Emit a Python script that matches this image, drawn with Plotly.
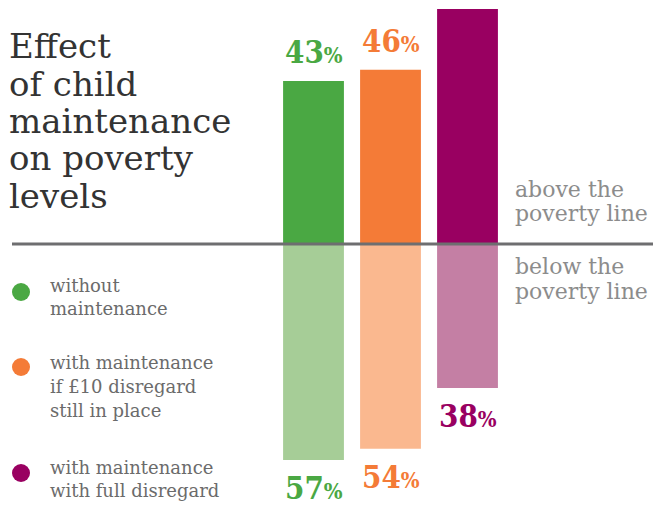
import plotly.graph_objects as go

# Share of families above / below the poverty line, by scenario
scenarios = ["without maintenance",
             "with maintenance if £10 disregard still in place",
             "with maintenance with full disregard"]
above_pct = [43, 46, 62]
below_pct = [57, 54, 38]
show_above_label = [True, True, False]

legend_lines = [["without", "maintenance"],
                ["with maintenance", "if £10 disregard", "still in place"],
                ["with maintenance", "with full disregard"]]
title_lines = ["Effect", "of child", "maintenance", "on poverty", "levels"]

dark = ["#4aa843", "#f47b37", "#990061"]
light = ["#a6cd97", "#fab88f", "#c47fa4"]

W, H = 653, 507


def py(y):
    """Pixel row -> paper fraction."""
    return 1 - y / H


def px(x):
    return x / W


x = list(range(len(scenarios)))
fig = go.Figure()
fig.add_bar(x=x, y=above_pct, base=0, marker_color=dark, marker_line_width=0,
            width=0.79, showlegend=False, hoverinfo="skip")
fig.add_bar(x=x, y=[-v for v in below_pct], base=0, marker_color=light,
            marker_line_width=0, width=0.79, showlegend=False, hoverinfo="skip")

# poverty line
fig.add_shape(type="line", xref="paper", yref="y", x0=px(12), x1=1, y0=0, y1=0,
              line=dict(color="#6e6e70", width=3))

pct_font = dict(family="DejaVu Serif Condensed", size=31)


def pct_text(v):
    return f"<b>{v}<span style='font-size:22px'>%</span></b>"


for i in x:
    if show_above_label[i]:
        fig.add_annotation(x=i, y=above_pct[i], yref="y", text=pct_text(above_pct[i]),
                           showarrow=False, yanchor="bottom", yshift=10, borderpad=0,
                           font=dict(color=dark[i], **pct_font))
    fig.add_annotation(x=i, y=-below_pct[i], yref="y", text=pct_text(below_pct[i]),
                       showarrow=False, yanchor="top", yshift=-9, borderpad=0,
                       font=dict(color=dark[i], **pct_font))

# title, one line at a time
for k, line in enumerate(title_lines):
    fig.add_annotation(xref="paper", yref="paper", x=px(7), y=py(46 + 37.5 * k),
                       text=line, showarrow=False, xanchor="left", yanchor="middle",
                       font=dict(family="DejaVu Serif", size=34, color="#333333"))

# legend
dot_rows = [292, 367, 473]
text_rows = [[285, 308], [362, 386, 410], [467, 490]]
for i in x:
    fig.add_shape(type="circle", xref="paper", yref="paper",
                  x0=px(12), x1=px(30), y0=py(dot_rows[i] + 9), y1=py(dot_rows[i] - 9),
                  fillcolor=dark[i], line_width=0)
    for line, yy in zip(legend_lines[i], text_rows[i]):
        fig.add_annotation(xref="paper", yref="paper", x=px(48), y=py(yy), text=line,
                           showarrow=False, xanchor="left", yanchor="middle",
                           font=dict(family="DejaVu Serif", size=18, color="#6b6b6b"))

# side labels
for txt, yy in [("above the", 189), ("poverty line", 214),
                ("below the", 266), ("poverty line", 291)]:
    fig.add_annotation(xref="paper", yref="paper", x=px(513), y=py(yy), text=txt,
                       showarrow=False, xanchor="left", yanchor="middle",
                       font=dict(family="DejaVu Serif", size=22, color="#8c8c8c"))

scale = 3.79  # px per percentage point
baseline = 244
fig.update_layout(
    width=W, height=H, margin=dict(l=0, r=0, t=0, b=0),
    paper_bgcolor="white", plot_bgcolor="white", barmode="overlay",
    xaxis=dict(range=[-313.5 / 77, 2 + (W - 467.5) / 77], visible=False, fixedrange=True),
    yaxis=dict(range=[-(H - baseline) / scale, baseline / scale], visible=False,
               fixedrange=True),
)
fig.write_html("out.html")
